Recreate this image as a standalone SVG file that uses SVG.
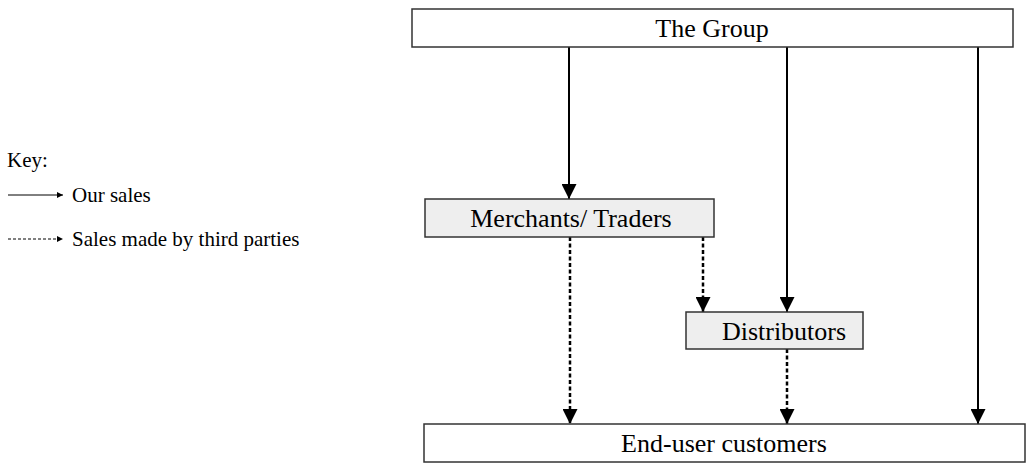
<svg xmlns="http://www.w3.org/2000/svg" width="1030" height="463" viewBox="0 0 1030 463">
<defs>
<marker id="ah" viewBox="0 0 10 10" refX="10" refY="5" markerWidth="7" markerHeight="6" markerUnits="userSpaceOnUse" orient="auto"><path d="M0,0 L10,5 L0,10 z" fill="#000"/></marker>
<marker id="big" viewBox="0 0 10 10" refX="10" refY="5" markerWidth="16" markerHeight="15" markerUnits="userSpaceOnUse" orient="auto"><path d="M0,0 L10,5 L0,10 z" fill="#000"/></marker>
<style>
.box{stroke:#333;stroke-width:1.5;fill:#fff}
.shade{fill:#eeeeee}
.t{font-family:"Liberation Serif","Times New Roman",serif;font-size:26px;fill:#000;text-anchor:middle}
.k{font-family:"Liberation Serif","Times New Roman",serif;font-size:21px;fill:#000}
.s{stroke:#000;stroke-width:2;fill:none}
.d{stroke:#000;stroke-width:2.5;fill:none;stroke-dasharray:4 2.5}
.ks{stroke:#000;stroke-width:1;fill:none}
.kd{stroke:#000;stroke-width:1;fill:none;stroke-dasharray:3 2}
</style>
</defs>
<rect width="1030" height="463" fill="#fff"/>
<g id="key">
<text class="k" x="7" y="167">Key:</text>
<line class="ks" x1="8" y1="195" x2="63" y2="195" marker-end="url(#ah)"/>
<text class="k" x="72" y="202">Our sales</text>
<line class="kd" x1="8" y1="239" x2="63" y2="239" marker-end="url(#ah)"/>
<text class="k" x="72" y="246">Sales made by third parties</text>
</g>
<g id="connectors">
<line class="s" x1="569" y1="47" x2="569" y2="199" marker-end="url(#big)"/>
<line class="s" x1="787" y1="47" x2="787" y2="312" marker-end="url(#big)"/>
<line class="s" x1="978" y1="47" x2="978" y2="424" marker-end="url(#big)"/>
<line class="d" x1="570" y1="237" x2="570" y2="424" marker-end="url(#big)"/>
<line class="d" x1="703" y1="237" x2="703" y2="312" marker-end="url(#big)"/>
<line class="d" x1="787" y1="349" x2="787" y2="424" marker-end="url(#big)"/>
</g>
<g id="group">
<rect class="box" x="412" y="9" width="601" height="38"/>
<text class="t" x="712" y="37">The Group</text>
</g>
<g id="merchants">
<rect class="box shade" x="425" y="199" width="289" height="38"/>
<text class="t" x="571" y="227">Merchants/ Traders</text>
</g>
<g id="distributors">
<rect class="box shade" x="686" y="312" width="177" height="37"/>
<text class="t" x="784" y="340">Distributors</text>
</g>
<g id="endusers">
<rect class="box" x="424" y="424" width="601" height="38"/>
<text class="t" x="724" y="452">End-user customers</text>
</g>
</svg>
